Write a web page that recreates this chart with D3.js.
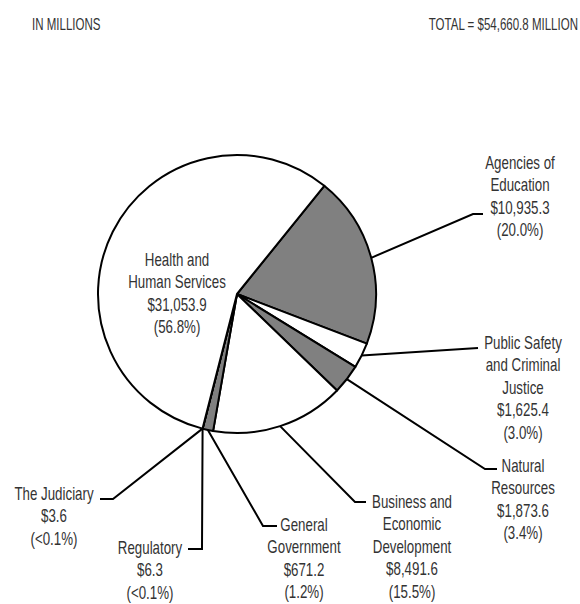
<!DOCTYPE html>
<html>
<head>
<meta charset="utf-8">
<script src="https://cdnjs.cloudflare.com/ajax/libs/d3/7.8.5/d3.min.js"></script>
<style>
  body { margin: 0; background: #fff; }
  text { font-family: "Liberation Sans", Arial, sans-serif; fill: #333; }
</style>
</head>
<body>
<div id="chart"></div>
<script>
// budget slices, clockwise from the top-right edge of Agencies of Education
var categories = ["Agencies of Education", "Public Safety and Criminal Justice", "Natural Resources",
  "Business and Economic Development", "General Government", "Regulatory", "The Judiciary",
  "Health and Human Services"];
var values = [10935.3, 1625.4, 1873.6, 8491.6, 671.2, 6.3, 3.6, 31053.9];
var amounts = ["$10,935.3", "$1,625.4", "$1,873.6", "$8,491.6", "$671.2", "$6.3", "$3.6", "$31,053.9"];
var percents = ["(20.0%)", "(3.0%)", "(3.4%)", "(15.5%)", "(1.2%)", "(<0.1%)", "(<0.1%)", "(56.8%)"];
var nameLines = [["Agencies of", "Education"], ["Public Safety", "and Criminal", "Justice"],
  ["Natural", "Resources"], ["Business and", "Economic", "Development"], ["General", "Government"],
  ["Regulatory"], ["The Judiciary"], ["Health and", "Human Services"]];
var totalLabel = "TOTAL = $54,660.8 MILLION";
var unitLabel = "IN MILLIONS";

var width = 580, height = 604;
var cx = 237, cy = 294, radius = 139;
var lineGap = 22.4;
var squeeze = 0.74; // condensed look: no narrow font available, so scale x

// label placement: text centre, first baseline, leader bend points (null = inside the pie)
var labelPos = [
  { x: 520, y: 169, path: [[473, 214], [483, 214]] },
  { x: 523, y: 349, path: [[478, 348]] },
  { x: 523, y: 472, path: [[485, 469], [497, 469]] },
  { x: 412, y: 508, path: [[355, 502], [366, 502]] },
  { x: 304, y: 531, path: [[263, 526], [277, 526]] },
  { x: 150, y: 554, path: [[202, 549], [188, 549]] },
  { x: 54, y: 500, path: [[113, 499], [100, 499]] },
  { x: 177, y: 266, path: null }
];
var shade = ["#808080", "#fff", "#808080", "#fff", "#808080", "#fff", "#fff", "#fff"];

var data = categories.map(function (c, i) {
  return { name: c, value: values[i], i: i };
});

var startAngle = 38.9 * Math.PI / 180;
var pie = d3.pie().sort(null).value(function (d) { return d.value; })
  .startAngle(startAngle).endAngle(startAngle + 2 * Math.PI);
var arc = d3.arc().innerRadius(0).outerRadius(radius);

var svg = d3.select("#chart").append("svg").attr("width", width).attr("height", height);

svg.append("g").attr("transform", "translate(32,30) scale(0.72,1)")
  .append("text").style("font-size", "16px").text(unitLabel);
svg.append("g").attr("transform", "translate(578,30) scale(0.72,1)")
  .append("text").attr("text-anchor", "end").style("font-size", "16px").text(totalLabel);

var arcs = pie(data);

var g = svg.append("g").attr("transform", "translate(" + cx + "," + cy + ")");
g.selectAll("path.slice").data(arcs).enter().append("path")
  .attr("class", "slice")
  .attr("d", arc)
  .attr("fill", function (d) { return shade[d.data.i]; })
  .attr("stroke", "#000").attr("stroke-width", 2).attr("stroke-linejoin", "round");

// leader lines start on the rim at each slice's mid angle
var line = d3.line();
arcs.forEach(function (d) {
  var p = labelPos[d.data.i];
  if (!p.path) return;
  var a = (d.startAngle + d.endAngle) / 2;
  var start = [cx + radius * Math.sin(a), cy - radius * Math.cos(a)];
  svg.append("path").attr("d", line([start].concat(p.path)))
    .attr("fill", "none").attr("stroke", "#000").attr("stroke-width", 2);
});

// labels
arcs.forEach(function (d) {
  var i = d.data.i, p = labelPos[i];
  var rows = nameLines[i].concat([amounts[i], percents[i]]);
  var t = svg.append("g").attr("transform", "translate(" + p.x + ",0) scale(" + squeeze + ",1)")
    .append("text").attr("text-anchor", "middle").style("font-size", "18px");
  rows.forEach(function (r, k) {
    t.append("tspan").attr("x", 0).attr("y", p.y + k * lineGap).text(r);
  });
});
</script>
</body>
</html>
